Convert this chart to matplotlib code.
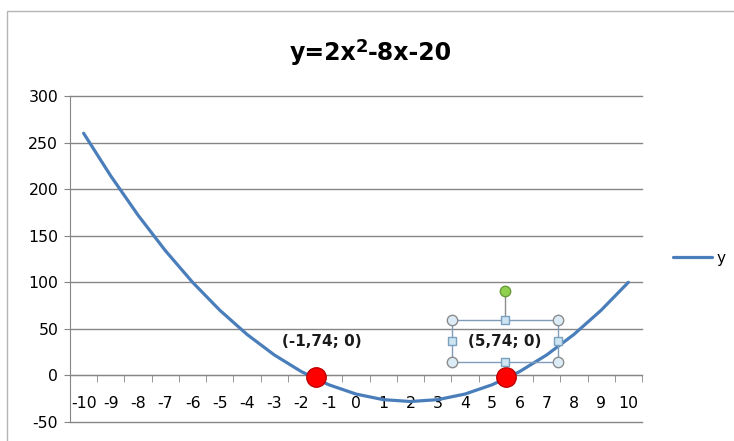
import matplotlib
matplotlib.use("Agg")
import matplotlib.pyplot as plt
import matplotlib.transforms as mtransforms
from matplotlib.patches import Rectangle

plt.rcParams["axes.unicode_minus"] = False

# data
x_vals = [-10, -9, -8, -7, -6, -5, -4, -3, -2, -1, 0, 1, 2, 3, 4, 5, 6, 7, 8, 9, 10]
y_vals = [260, 214, 172, 134, 100, 70, 44, 22, 4, -10, -20, -26, -28, -26, -20, -10, 4, 22, 44, 70, 100]
root_x = [-1.48, 5.51]
root_y = [-2, -2]
root_labels = ["(-1,74; 0)", "(5,74; 0)"]
y_ticks = [-50, 0, 50, 100, 150, 200, 250, 300]

GRID = "#868686"
LINE = "#4a7ebb"

fig = plt.figure(figsize=(7.34, 4.41), dpi=100)
fig.patch.set_facecolor("white")
ax = fig.add_axes([70 / 734, 1 - 422 / 441, 572 / 734, 326 / 441])

ax.plot(x_vals, y_vals, color=LINE, lw=2.3, solid_capstyle="round", zorder=3)
ax.plot(root_x, root_y, "o", ms=14, mfc="#ff0000", mec="#c00000", mew=1.0, zorder=4)

ax.set_xlim(-10.5, 10.5)
ax.set_ylim(-50, 300)
ax.set_yticks(y_ticks)
ax.set_xticks(x_vals)
ax.set_xticks([v + 0.5 for v in [-11] + x_vals], minor=True)
ax.yaxis.grid(True, color=GRID, lw=1)
ax.set_axisbelow(True)
for gl in ax.get_ygridlines():
    gl.set_clip_on(False)

for s in ["top", "right"]:
    ax.spines[s].set_visible(False)
ax.spines["left"].set_color(GRID)
ax.spines["bottom"].set_color(GRID)
ax.spines["bottom"].set_position(("data", 0))

ax.tick_params(axis="y", length=4.5, color=GRID, labelsize=11.3, pad=4)
ax.tick_params(axis="x", which="major", length=0, labelsize=11.3, pad=15)
ax.tick_params(axis="x", which="minor", length=5, color=GRID)

# point labels
for rx, ry, lab, dx in zip(root_x, root_y, root_labels, [4.5, -0.9]):
    ax.annotate(lab, xy=(rx, ry), xytext=(dx, 25.8), textcoords="offset points",
                ha="center", va="center", fontsize=11, fontweight="bold",
                color="#1a1a1a", zorder=5)

# selection handles around second label (pixel offsets from the point)
sel = mtransforms.Affine2D().scale(fig.dpi / 100.0) + \
    mtransforms.ScaledTranslation(root_x[1], root_y[1], ax.transData)
bl, br, bb, bt, gy = -53.7, 52.3, 15.0, 57.3, 86.6
bm = (bl + br) / 2
ax.plot([bl, br, br, bl, bl], [bb, bb, bt, bt, bb], color="#7f9db9", lw=1,
        transform=sel, clip_on=False, zorder=6)
ax.plot([bm, bm], [bt, gy], color="#8c8c8c", lw=1, transform=sel, clip_on=False, zorder=6)
ax.plot([bl, br, bl, br], [bb, bb, bt, bt], "o", ms=7.5, mfc="#dcecf7", mec="#8c8c8c",
        mew=1, transform=sel, clip_on=False, zorder=7)
ax.plot([bm, bm, bl, br], [bb, bt, (bb + bt) / 2, (bb + bt) / 2], "s", ms=6, mfc="#cde4f2",
        mec="#7aa0c0", mew=1, transform=sel, clip_on=False, zorder=7)
ax.plot([bm], [gy], "o", ms=7.5, mfc="#8fd14f", mec="#6a9a3a", mew=1,
        transform=sel, clip_on=False, zorder=7)

# title with superscript
t1 = fig.text(290 / 734, 1 - 60 / 441, "y=2x", fontsize=17, fontweight="bold",
              ha="left", va="baseline")
t2 = ax.annotate("2", xy=(1, 1), xycoords=t1, xytext=(-0.8, 2), textcoords="offset points",
                 fontsize=13, fontweight="bold", ha="left", va="top")
t3 = ax.annotate("-8x-20", xy=(1, 0), xycoords=(t2, t1), xytext=(-0.3, 0),
                 textcoords="offset points", fontsize=17, fontweight="bold",
                 ha="left", va="bottom")

# legend
ax.legend(["y"], loc="center left", bbox_to_anchor=(673 / 734, 1 - 258 / 441),
          bbox_transform=fig.transFigure, frameon=False, fontsize=11,
          handlelength=2.55, handletextpad=0.3, borderpad=0, borderaxespad=0)

# chart area border
fig.add_artist(Rectangle((7 / 734, -0.1), 1.2, 1.1 - 11 / 441, fill=False,
                         edgecolor="#b4b4b4", lw=1, transform=fig.transFigure))

fig.savefig("out.png", dpi=100)
